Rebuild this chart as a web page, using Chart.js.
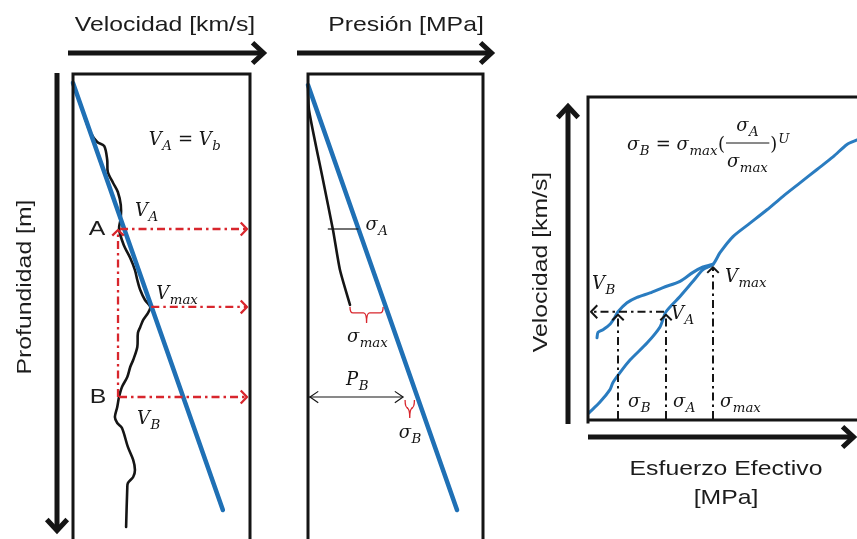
<!DOCTYPE html>
<html>
<head>
<meta charset="utf-8">
<script src="https://cdn.jsdelivr.net/npm/chart.js@4.4.1/dist/chart.umd.min.js"></script>
<style>
  html, body { margin: 0; padding: 0; background: #fff; }
  #wrap { position: relative; width: 857px; height: 539px; overflow: hidden; background: #fff; }
  #wrap canvas { position: absolute; left: 0; top: 0; }
</style>
</head>
<body>
<div id="wrap">
  <canvas id="cVel" width="857" height="539"></canvas>
  <canvas id="cPres" width="857" height="539"></canvas>
  <canvas id="cEff" width="857" height="539"></canvas>
</div>
<script>
// ---- Velocity vs depth (left panel) ----
const trendDepth = [58, 2813];            // m
const trendVel   = [1.5, 4.04];           // km/s, normal compaction trend
const logDepth = [284, 374, 439, 465, 555, 632, 703, 761, 845, 929,
                  1000, 1103, 1187, 1265, 1329, 1394, 1458, 1503, 1542, 1587,
                  1632, 1671, 1761, 1845, 1890, 1955, 2019, 2084, 2148, 2213,
                  2252, 2284, 2406, 2490, 2555, 2600, 2639, 2671, 2923];
const logVel   = [1.70, 1.79, 1.91, 2.03, 2.08, 2.09, 2.18, 2.26, 2.31, 2.31,
                  2.28, 2.36, 2.47, 2.55, 2.59, 2.64, 2.72, 2.81, 2.77, 2.69,
                  2.64, 2.60, 2.59, 2.52, 2.47, 2.42, 2.33, 2.28, 2.25, 2.21,
                  2.25, 2.33, 2.43, 2.52, 2.55, 2.52, 2.43, 2.42, 2.40];
const depthA = 1000, depthMax = 1503, depthB = 2084;   // m
const velA = 2.28, velMax = 2.81;                        // km/s (V_A = V_B)

// ---- Pressure vs depth (middle panel) ----
const overburdenDepth = [71, 2813];       // m
const overburdenPress = [0, 51.1];        // MPa
const poreDepth = [71, 232, 684, 1006, 1265, 1490];
const porePress = [0, 0.34, 5.14, 8.57, 10.97, 14.4];
const pressB = 32.6;                      // MPa, pore pressure at B

// ---- Velocity vs effective stress (right panel) ----
const loadStress = [0.1, 1.2, 2.2, 2.5, 3.2, 4.2, 5.9, 7.2, 7.8, 9.2, 10.5, 11.5,
                    12.5, 13.2, 14.5, 16.2, 17.9, 19.5, 21.2, 22.9, 24.5, 25.9, 26.9];
const loadVel    = [1.15, 1.27, 1.41, 1.49, 1.60, 1.74, 1.93, 2.11, 2.28, 2.45, 2.62, 2.75,
                    2.81, 2.94, 3.12, 3.27, 3.42, 3.57, 3.72, 3.87, 4.01, 4.15, 4.20];
const unloadStress = [0.9, 1.0, 1.5, 2.2, 2.7, 3.0, 3.9, 4.9, 6.2, 7.5, 9.2, 10.5, 11.5, 12.5];
const unloadVel    = [1.99, 2.05, 2.08, 2.14, 2.22, 2.28, 2.38, 2.44, 2.49, 2.55, 2.62, 2.72, 2.78, 2.81];
const sigmaB = 3.0, sigmaA = 7.8, sigmaMax = 12.5;      // MPa

// ---- shared drawing helpers ----
const BLUE = '#1f70b5';
const BLUE2 = '#2a7cc0';
const RED = '#d8262d';
const INK = '#151515';
const SANS = '"Liberation Sans", Arial, sans-serif';
const SERIF = '"DejaVu Serif", "Liberation Serif", serif';

function pts(xs, ys) { return xs.map((v, i) => ({ x: v, y: ys[i] })); }
function interp(xs, ys, v) {
  for (let i = 0; i < xs.length - 1; i++) {
    if (v >= xs[i] && v <= xs[i + 1]) {
      const t = (v - xs[i]) / (xs[i + 1] - xs[i]);
      return ys[i] + t * (ys[i + 1] - ys[i]);
    }
  }
  return v < xs[0] ? ys[0] : ys[ys.length - 1];
}

function line(ctx, x1, y1, x2, y2, color, w, dash) {
  ctx.save();
  ctx.strokeStyle = color; ctx.lineWidth = w;
  if (dash) ctx.setLineDash(dash);
  ctx.beginPath(); ctx.moveTo(x1, y1); ctx.lineTo(x2, y2); ctx.stroke();
  ctx.restore();
}
function chevron(ctx, x, y, ang, size, spread, color, w, join) {
  ctx.save();
  ctx.strokeStyle = color; ctx.lineWidth = w; ctx.lineJoin = join || 'miter'; ctx.lineCap = 'butt';
  ctx.beginPath();
  ctx.moveTo(x - size * Math.cos(ang - spread), y - size * Math.sin(ang - spread));
  ctx.lineTo(x, y);
  ctx.lineTo(x - size * Math.cos(ang + spread), y - size * Math.sin(ang + spread));
  ctx.stroke();
  ctx.restore();
}
// heavy axis arrow with an open head
function axisArrow(ctx, x1, y1, x2, y2) {
  const ang = Math.atan2(y2 - y1, x2 - x1);
  line(ctx, x1, y1, x2 - 3 * Math.cos(ang), y2 - 3 * Math.sin(ang), INK, 5);
  chevron(ctx, x2 - 2.5 * Math.cos(ang), y2 - 2.5 * Math.sin(ang), ang, 15, 0.75, INK, 5);
}
// dash-dot guide ending in an open head
function guideArrow(ctx, x1, y1, x2, y2, color, w, head) {
  const ang = Math.atan2(y2 - y1, x2 - x1);
  line(ctx, x1, y1, x2, y2, color, w, [8, 4, 2.5, 4]);
  chevron(ctx, x2, y2, ang, head, 0.8, color, w, 'round');
}
function sansText(ctx, text, x, y, rot) {
  ctx.save();
  ctx.translate(x, y);
  if (rot) ctx.rotate(rot);
  ctx.scale(1.18, 1);
  ctx.font = '21px ' + SANS;
  ctx.fillStyle = '#1c1c1c';
  ctx.textAlign = 'center';
  ctx.textBaseline = 'middle';
  ctx.fillText(text, 0, 0);
  ctx.restore();
}
// math-style label: italic symbols with italic subscripts
function mathParts(ctx, parts, size, draw, x0, yBase) {
  let cx = x0 || 0;
  for (const p of parts) {
    if (p.t) {
      ctx.font = (p.up ? '' : 'italic ') + size + 'px ' + SERIF;
      if (draw) ctx.fillText(p.t, cx, yBase);
      cx += ctx.measureText(p.t).width;
    }
    if (p.sub) {
      const s = size * 0.74;
      ctx.font = 'italic ' + s + 'px ' + SERIF;
      if (draw) ctx.fillText(p.sub, cx + 0.5, yBase + size * 0.28);
      cx += ctx.measureText(p.sub).width + 1;
    }
    if (p.sup) {
      const s = size * 0.74;
      ctx.font = 'italic ' + s + 'px ' + SERIF;
      if (draw) ctx.fillText(p.sup, cx + 1, yBase - size * 0.42);
      cx += ctx.measureText(p.sup).width + 1;
    }
  }
  return cx - (x0 || 0);
}
function mathText(ctx, parts, x, yMid, size, align) {
  ctx.save();
  ctx.fillStyle = INK; ctx.textAlign = 'left'; ctx.textBaseline = 'alphabetic';
  const w = mathParts(ctx, parts, size, false, 0, 0);
  let x0 = x;
  if (align === 'center') x0 = x - w / 2;
  else if (align === 'right') x0 = x - w;
  mathParts(ctx, parts, size, true, x0, yMid + size * 0.3);
  ctx.restore();
  return w;
}
// open frame around a panel (sides listed in `sides`)
function frame(ctx, a, sides) {
  ctx.save();
  ctx.strokeStyle = INK; ctx.lineWidth = 3; ctx.lineCap = 'square';
  ctx.beginPath();
  if (sides.includes('t')) { ctx.moveTo(a.left, a.top); ctx.lineTo(a.right, a.top); }
  if (sides.includes('l')) { ctx.moveTo(a.left, a.top); ctx.lineTo(a.left, a.bottom + 2); }
  if (sides.includes('r')) { ctx.moveTo(a.right, a.top); ctx.lineTo(a.right, a.bottom + 2); }
  if (sides.includes('b')) { ctx.moveTo(a.left, a.bottom); ctx.lineTo(a.right + 2, a.bottom); }
  ctx.stroke();
  ctx.restore();
}
// brace opening upward with a centre tick pointing down
function brace(ctx, x1, x2, yTop, h, tick) {
  const xm = (x1 + x2) / 2, yb = yTop + h;
  ctx.save();
  ctx.strokeStyle = RED; ctx.lineWidth = 1.3;
  ctx.beginPath();
  ctx.moveTo(x1, yTop);
  ctx.quadraticCurveTo(x1, yb, x1 + 3, yb);
  ctx.lineTo(xm - 3, yb);
  ctx.quadraticCurveTo(xm, yb, xm, yb + tick);
  ctx.quadraticCurveTo(xm, yb, xm + 3, yb);
  ctx.lineTo(x2 - 3, yb);
  ctx.quadraticCurveTo(x2, yb, x2, yTop);
  ctx.stroke();
  ctx.restore();
}

const baseOptions = (pad, xr, yr, yReverse) => ({
  responsive: false,
  animation: false,
  events: [],
  layout: { padding: pad },
  plugins: { legend: { display: false }, tooltip: { enabled: false }, title: { display: false } },
  scales: {
    x: { type: 'linear', min: xr[0], max: xr[1], display: false },
    y: { type: 'linear', min: yr[0], max: yr[1], reverse: !!yReverse, display: false }
  }
});
const lineSet = (data, color, width, extra) => Object.assign({
  data, showLine: true, borderColor: color, borderWidth: width,
  pointRadius: 0, fill: false, clip: 4, borderCapStyle: 'round', borderJoinStyle: 'round'
}, extra || {});

// ---------------- Left panel: velocity profile ----------------
const velPanel = {
  id: 'velPanel',
  afterDatasetsDraw(chart) {
    const { ctx, chartArea: a, scales: { x, y } } = chart;
    const xa = x.getPixelForValue(velA);
    const ya = y.getPixelForValue(depthA);
    const yb = y.getPixelForValue(depthB);
    const xm = x.getPixelForValue(velMax);
    const ym = y.getPixelForValue(depthMax);
    const xEnd = a.right - 3;

    guideArrow(ctx, xa + 1, ya, xEnd, ya, RED, 2.3, 9);
    guideArrow(ctx, xm + 1, ym, xEnd, ym, RED, 2.3, 9);
    guideArrow(ctx, xa, yb, xEnd, yb, RED, 2.3, 9);
    guideArrow(ctx, xa - 1, yb, xa - 1, ya + 1, RED, 2.3, 8);

    frame(ctx, a, 'tlr');
    axisArrow(ctx, 68, 53, 266, 53);
    axisArrow(ctx, 57, 73, 57, 533);
    sansText(ctx, 'Velocidad [km/s]', 165, 25);
    sansText(ctx, 'Profundidad [m]', 25, 287, -Math.PI / 2);
    sansText(ctx, 'A', xa - 22, ya);
    sansText(ctx, 'B', xa - 21, yb);

    mathText(ctx, [{ t: 'V', sub: 'A' }, { t: ' = ', up: true }, { t: 'V', sub: 'b' }], a.left + 112, 140, 18, 'center');
    mathText(ctx, [{ t: 'V', sub: 'A' }], xa + 16, ya - 18, 18, 'left');
    mathText(ctx, [{ t: 'V', sub: 'max' }], xm + 6, ym - 13, 18, 'left');
    mathText(ctx, [{ t: 'V', sub: 'B' }], xa + 18, yb + 22, 18, 'left');
  }
};

new Chart(document.getElementById('cVel'), {
  type: 'scatter',
  data: {
    datasets: [
      lineSet(pts(trendVel, trendDepth), BLUE, 4.5, { order: 1 }),
      lineSet(pts(logVel, logDepth), INK, 2.6, { order: 2, tension: 0.3 })
    ]
  },
  options: baseOptions({ left: 73, right: 857 - 250, top: 74, bottom: 0 }, [1.5, 4.5], [0, 3000], true),
  plugins: [velPanel]
});

// ---------------- Middle panel: pressures ----------------
const presPanel = {
  id: 'presPanel',
  afterDatasetsDraw(chart) {
    const { ctx, chartArea: a, scales: { x, y } } = chart;
    const obAt = d => interp(overburdenDepth, overburdenPress, d);

    // sigma_A tick between pore pressure and overburden at A
    const yA = y.getPixelForValue(depthA);
    const xPoreA = x.getPixelForValue(interp(poreDepth, porePress, depthA));
    const xObA = x.getPixelForValue(obAt(depthA));
    line(ctx, xPoreA - 5, yA, xObA, yA, INK, 1.2);
    mathText(ctx, [{ t: 'σ', sub: 'A' }], xObA + 7, yA - 4, 18, 'left');

    // sigma_max brace at the end of the pore-pressure curve
    const dEnd = poreDepth[poreDepth.length - 1];
    const xPe = x.getPixelForValue(porePress[porePress.length - 1]);
    const xOe = x.getPixelForValue(obAt(dEnd));
    const yE = y.getPixelForValue(dEnd);
    brace(ctx, xPe, xOe - 2, yE + 2, 6, 10);
    mathText(ctx, [{ t: 'σ', sub: 'max' }], (xPe + xOe) / 2, yE + 32, 18, 'center');

    // pore pressure at B and sigma_B
    const yB = y.getPixelForValue(depthB);
    const xPB = x.getPixelForValue(pressB);
    const xObB = x.getPixelForValue(obAt(depthB));
    line(ctx, a.left + 1, yB, xPB, yB, INK, 1.2);
    chevron(ctx, a.left + 2, yB, Math.PI, 10, 0.6, INK, 1.2);
    chevron(ctx, xPB, yB, 0, 10, 0.6, INK, 1.2);
    mathText(ctx, [{ t: 'P', sub: 'B' }], (a.left + xPB) / 2 + 2, yB - 17, 18, 'center');
    brace(ctx, xPB + 2, xObB - 3, yB + 3, 8, 10);
    mathText(ctx, [{ t: 'σ', sub: 'B' }], (xPB + xObB) / 2, yB + 36, 18, 'center');

    frame(ctx, a, 'tlr');
    axisArrow(ctx, 297, 53, 494, 53);
    sansText(ctx, 'Presión [MPa]', 406, 25);
  }
};

new Chart(document.getElementById('cPres'), {
  type: 'scatter',
  data: {
    datasets: [
      lineSet(pts(overburdenPress, overburdenDepth), BLUE, 4.5, { order: 1 }),
      lineSet(pts(porePress, poreDepth), INK, 2.6, { order: 2, tension: 0.2 })
    ]
  },
  options: baseOptions({ left: 308, right: 857 - 483, top: 74, bottom: 0 }, [0, 60], [0, 3000], true),
  plugins: [presPanel]
});

// ---------------- Right panel: velocity vs effective stress ----------------
const effPanel = {
  id: 'effPanel',
  afterDatasetsDraw(chart) {
    const { ctx, chartArea: a, scales: { x, y } } = chart;
    const xB = x.getPixelForValue(sigmaB);
    const xA = x.getPixelForValue(sigmaA);
    const xM = x.getPixelForValue(sigmaMax);
    const yA = y.getPixelForValue(velA);
    const yM = y.getPixelForValue(velMax);

    guideArrow(ctx, xB, a.bottom - 1, xB, yA + 3, INK, 2, 8);
    guideArrow(ctx, xA, a.bottom - 1, xA, yA + 3, INK, 2, 8);
    guideArrow(ctx, xM, a.bottom - 1, xM, yM + 3, INK, 2, 8);
    guideArrow(ctx, xA - 2, yA, a.left + 3, yA, INK, 2, 9);

    mathText(ctx, [{ t: 'σ', sub: 'B' }], xB + 10, a.bottom - 18, 18, 'left');
    mathText(ctx, [{ t: 'σ', sub: 'A' }], xA + 7, a.bottom - 18, 18, 'left');
    mathText(ctx, [{ t: 'σ', sub: 'max' }], xM + 7, a.bottom - 18, 18, 'left');
    mathText(ctx, [{ t: 'V', sub: 'B' }], a.left + 4, yA - 28, 18, 'left');
    mathText(ctx, [{ t: 'V', sub: 'A' }], xA + 5, yA + 2, 18, 'left');
    mathText(ctx, [{ t: 'V', sub: 'max' }], xM + 12, yM + 12, 18, 'left');

    // sigma_B = sigma_max (sigma_A / sigma_max)^U
    ctx.save();
    ctx.fillStyle = INK;
    let cx = 627;
    const ym = 145;
    cx += mathText(ctx, [{ t: 'σ', sub: 'B' }], cx, ym, 18, 'left');
    cx += mathText(ctx, [{ t: ' = ', up: true }], cx, ym, 18, 'left');
    cx += mathText(ctx, [{ t: 'σ', sub: 'max' }, { t: '(', up: true }], cx, ym, 18, 'left');
    const fx = cx + 1;
    const wDen = mathText(ctx, [{ t: 'σ', sub: 'max' }], fx + 1, ym + 17, 18, 'left');
    line(ctx, fx, ym - 2, fx + wDen + 2, ym - 2, INK, 1);
    mathText(ctx, [{ t: 'σ', sub: 'A' }], fx + (wDen + 2) / 2, ym - 19, 18, 'center');
    cx = fx + wDen + 3;
    mathText(ctx, [{ t: ')', up: true, sup: 'U' }], cx, ym, 18, 'left');
    ctx.restore();

    frame(ctx, a, 'tlb');
    axisArrow(ctx, 568, 424, 568, 104);
    axisArrow(ctx, 588, 437, 856, 437);
    sansText(ctx, 'Velocidad [km/s]', 541, 262, -Math.PI / 2);
    sansText(ctx, 'Esfuerzo Efectivo', 726, 469);
    sansText(ctx, '[MPa]', 726, 498);
  }
};

new Chart(document.getElementById('cEff'), {
  type: 'scatter',
  data: {
    datasets: [
      lineSet(pts(loadStress, loadVel), BLUE2, 3, { tension: 0.25 }),
      lineSet(pts(unloadStress, unloadVel), BLUE2, 3, { tension: 0.25 })
    ]
  },
  options: baseOptions({ left: 588, right: 0, top: 97, bottom: 539 - 420 }, [0, 26.9], [1.07, 4.68], false),
  plugins: [effPanel]
});
</script>
</body>
</html>
